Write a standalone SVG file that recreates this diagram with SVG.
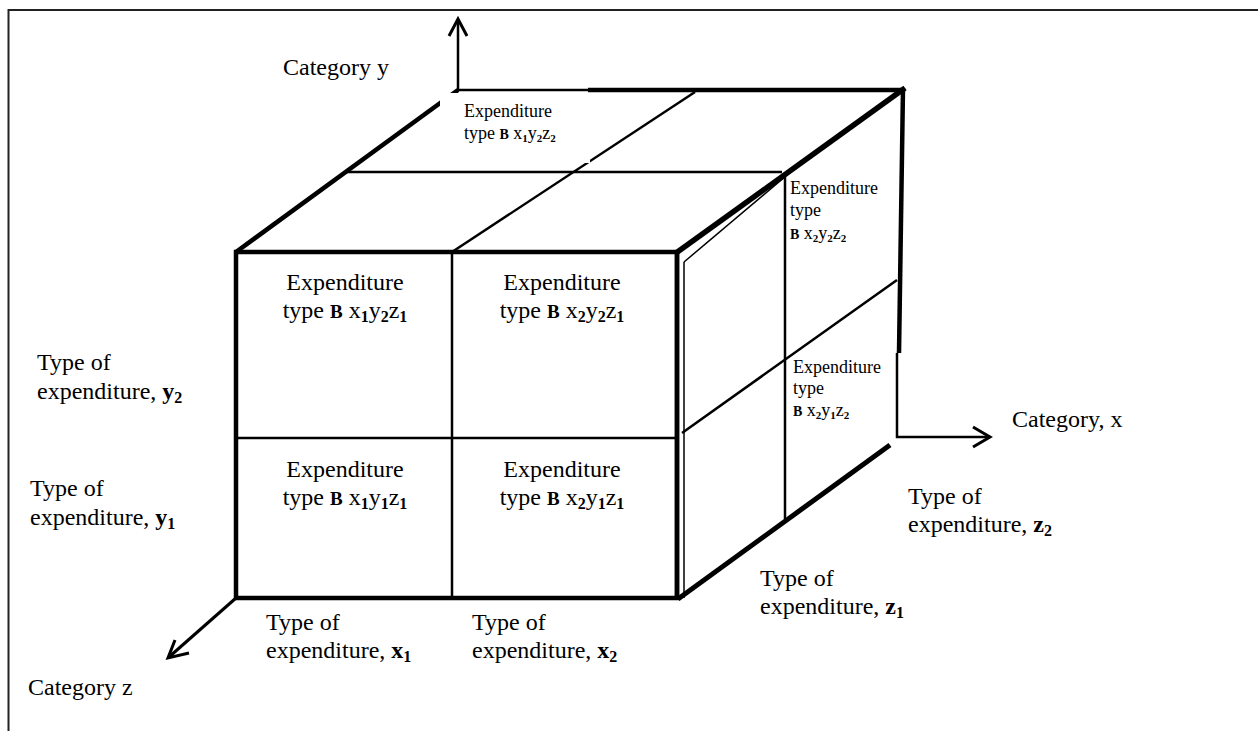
<svg xmlns="http://www.w3.org/2000/svg" width="1258" height="731" viewBox="0 0 1258 731">
<style>
text{font-family:"Liberation Serif","Times New Roman",serif;fill:#000}
.lg{font-size:24px}
.sm{font-size:18px}
.sb{font-size:14px;font-weight:bold}
.ssb{font-size:11px;font-weight:bold}
.thick{stroke:#000;stroke-width:4.5;fill:none}
.mid{stroke:#000;stroke-width:2.5;fill:none}
.arr{stroke:#000;stroke-width:3;fill:none}
.thin{stroke:#000;stroke-width:1.5;fill:none}
</style>
<rect x="0" y="0" width="1258" height="731" fill="#fff"/>
<rect x="8.5" y="10" width="1270" height="800" fill="none" stroke="#222" stroke-width="2"/>
<g id="connectors">
  <polyline class="mid" points="590,90 458,90 458,20"/>
  <polyline class="arr" points="449,36 458,19 467,36"/>
  <polyline class="mid" points="897,353 897,437 990,437"/>
  <polyline class="arr" points="973,427 990,437 973,447"/>
  <line class="arr" x1="236" y1="598" x2="169" y2="657"/>
  <polyline class="arr" points="175,640 168,658 189,653"/>
</g>
<g id="cube">
  <line class="thick" x1="236" y1="252" x2="458" y2="90"/>
  <line class="thick" x1="588" y1="90" x2="905" y2="90"/>
  <line class="mid" x1="452" y1="252" x2="695" y2="92"/>
  <line class="mid" x1="345" y1="172" x2="782" y2="172"/>
  <line x1="676" y1="253" x2="905" y2="88" stroke="#000" stroke-width="5.5"/>
  <line class="thin" x1="684" y1="262" x2="786" y2="176"/>
  <rect class="thick" x="236" y="252" width="441" height="346"/>
  <line class="mid" x1="452" y1="254" x2="452" y2="598"/>
  <line class="mid" x1="236" y1="438" x2="677" y2="438"/>
  <line class="thick" x1="677" y1="252" x2="677" y2="600"/>
  <line class="thin" x1="684" y1="262" x2="684" y2="598"/>
  <line class="mid" x1="785" y1="173" x2="785" y2="519"/>
  <line class="mid" x1="682" y1="433" x2="897" y2="280"/>
  <line x1="678" y1="599" x2="890" y2="445" stroke="#000" stroke-width="5"/>
  <line class="thick" x1="903" y1="88" x2="899" y2="353"/>
  <rect x="440" y="93" width="150" height="70" fill="#fff"/>
</g>
<g id="label-category-y"><text class="lg" x="283" y="75">Category y</text></g>
<g id="cell-x1y2z2">
  <text class="sm" x="464" y="117">Expenditure</text>
  <text class="sm" x="464" y="139">type <tspan class="sb">B</tspan> x<tspan class="ssb" dy="3">1</tspan><tspan dy="-3">y</tspan><tspan class="ssb" dy="3">2</tspan><tspan dy="-3">z</tspan><tspan class="ssb" dy="3">2</tspan></text>
</g>
<g id="cell-x2y2z2">
  <text class="sm" x="790" y="194">Expenditure</text>
  <text class="sm" x="790" y="216">type</text>
  <text class="sm" x="790" y="239"><tspan class="sb">B</tspan> x<tspan class="ssb" dy="3">2</tspan><tspan dy="-3">y</tspan><tspan class="ssb" dy="3">2</tspan><tspan dy="-3">z</tspan><tspan class="ssb" dy="3">2</tspan></text>
</g>
<g id="cell-x2y1z2">
  <text class="sm" x="793" y="373">Expenditure</text>
  <text class="sm" x="793" y="394">type</text>
  <text class="sm" x="793" y="416"><tspan class="sb">B</tspan> x<tspan class="ssb" dy="3">2</tspan><tspan dy="-3">y</tspan><tspan class="ssb" dy="3">1</tspan><tspan dy="-3">z</tspan><tspan class="ssb" dy="3">2</tspan></text>
</g>
<g id="cell-x1y2z1">
  <text class="lg" x="345" y="290" text-anchor="middle">Expenditure</text>
  <text class="lg" x="345" y="318" text-anchor="middle">type <tspan font-size="19" font-weight="bold">B</tspan> x<tspan font-size="16" font-weight="bold" dy="4">1</tspan><tspan dy="-4">y</tspan><tspan font-size="16" font-weight="bold" dy="4">2</tspan><tspan dy="-4">z</tspan><tspan font-size="16" font-weight="bold" dy="4">1</tspan></text>
</g>
<g id="cell-x2y2z1">
  <text class="lg" x="562" y="290" text-anchor="middle">Expenditure</text>
  <text class="lg" x="562" y="318" text-anchor="middle">type <tspan font-size="19" font-weight="bold">B</tspan> x<tspan font-size="16" font-weight="bold" dy="4">2</tspan><tspan dy="-4">y</tspan><tspan font-size="16" font-weight="bold" dy="4">2</tspan><tspan dy="-4">z</tspan><tspan font-size="16" font-weight="bold" dy="4">1</tspan></text>
</g>
<g id="cell-x1y1z1">
  <text class="lg" x="345" y="477" text-anchor="middle">Expenditure</text>
  <text class="lg" x="345" y="505" text-anchor="middle">type <tspan font-size="19" font-weight="bold">B</tspan> x<tspan font-size="16" font-weight="bold" dy="4">1</tspan><tspan dy="-4">y</tspan><tspan font-size="16" font-weight="bold" dy="4">1</tspan><tspan dy="-4">z</tspan><tspan font-size="16" font-weight="bold" dy="4">1</tspan></text>
</g>
<g id="cell-x2y1z1">
  <text class="lg" x="562" y="477" text-anchor="middle">Expenditure</text>
  <text class="lg" x="562" y="505" text-anchor="middle">type <tspan font-size="19" font-weight="bold">B</tspan> x<tspan font-size="16" font-weight="bold" dy="4">2</tspan><tspan dy="-4">y</tspan><tspan font-size="16" font-weight="bold" dy="4">1</tspan><tspan dy="-4">z</tspan><tspan font-size="16" font-weight="bold" dy="4">1</tspan></text>
</g>
<g id="label-category-x"><text class="lg" x="1012" y="427">Category, x</text></g>
<g id="label-z2">
  <text class="lg" x="908" y="504">Type of</text>
  <text class="lg" x="908" y="532">expenditure, <tspan font-weight="bold">z</tspan><tspan font-size="16" font-weight="bold" dy="4">2</tspan></text>
</g>
<g id="label-z1">
  <text class="lg" x="760" y="586">Type of</text>
  <text class="lg" x="760" y="614">expenditure, <tspan font-weight="bold">z</tspan><tspan font-size="16" font-weight="bold" dy="4">1</tspan></text>
</g>
<g id="label-x1">
  <text class="lg" x="266" y="630">Type of</text>
  <text class="lg" x="266" y="658">expenditure, <tspan font-weight="bold">x</tspan><tspan font-size="16" font-weight="bold" dy="4">1</tspan></text>
</g>
<g id="label-x2">
  <text class="lg" x="472" y="630">Type of</text>
  <text class="lg" x="472" y="658">expenditure, <tspan font-weight="bold">x</tspan><tspan font-size="16" font-weight="bold" dy="4">2</tspan></text>
</g>
<g id="label-y2">
  <text class="lg" x="37" y="370">Type of</text>
  <text class="lg" x="37" y="399">expenditure, <tspan font-weight="bold">y</tspan><tspan font-size="16" font-weight="bold" dy="4">2</tspan></text>
</g>
<g id="label-y1">
  <text class="lg" x="30" y="496">Type of</text>
  <text class="lg" x="30" y="525">expenditure, <tspan font-weight="bold">y</tspan><tspan font-size="16" font-weight="bold" dy="4">1</tspan></text>
</g>
<g id="label-category-z"><text class="lg" x="28" y="695">Category z</text></g>
</svg>
